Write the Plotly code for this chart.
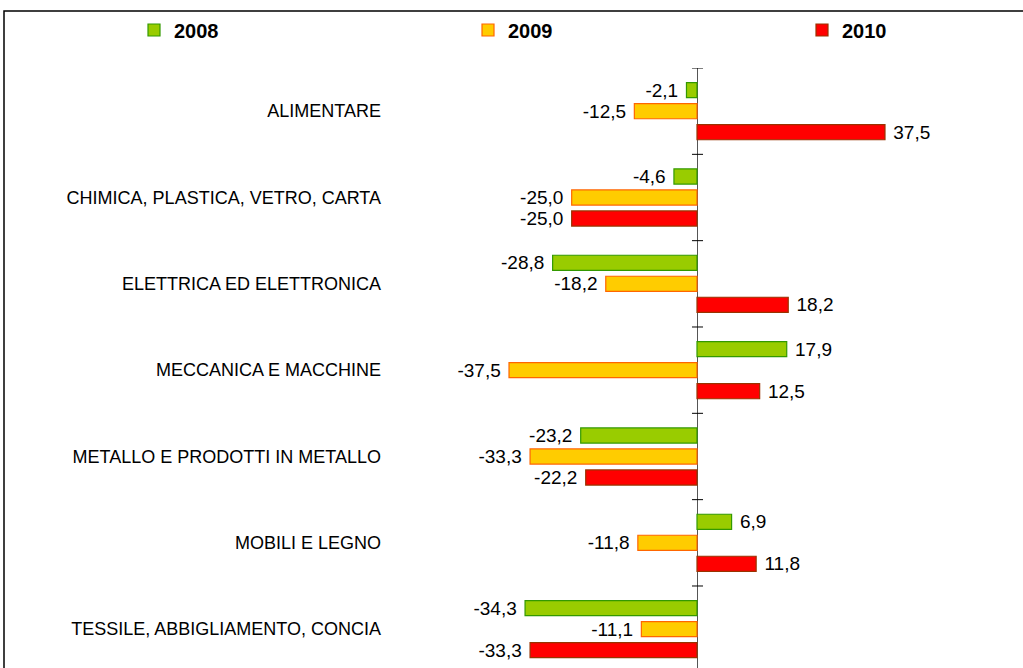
import plotly.graph_objects as go

categories = ["ALIMENTARE", "CHIMICA, PLASTICA, VETRO, CARTA", "ELETTRICA ED ELETTRONICA",
              "MECCANICA E MACCHINE", "METALLO E PRODOTTI IN METALLO", "MOBILI E LEGNO",
              "TESSILE, ABBIGLIAMENTO, CONCIA"]
v2008 = [-2.1, -4.6, -28.8, 17.9, -23.2, 6.9, -34.3]
v2009 = [-12.5, -25.0, -18.2, -37.5, -33.3, -11.8, -11.1]
v2010 = [37.5, -25.0, 18.2, 12.5, -22.2, 11.8, -33.3]

series = [
    ("2008", v2008, "#99CC00", "#339900", "legend"),
    ("2009", v2009, "#FFCC00", "#FF6600", "legend2"),
    ("2010", v2010, "#FF0000", "#993300", "legend3"),
]

W, H = 1023, 668
L, R, T, B = 388, 0, 68, 0
FONT = "Liberation Sans"
NB = "\u00a0"

fig = go.Figure()
for name, vals, fill, edge, lg in series:
    tmpl = [(NB + "%{x:.1f}") if v > 0 else ("%{x:.1f}" + NB) for v in vals]
    fig.add_trace(go.Bar(
        y=categories, x=vals, orientation="h", name="<b>%s</b>" % name,
        marker=dict(color=fill, line=dict(color=edge, width=1.2)),
        texttemplate=tmpl, textposition="outside", cliponaxis=False,
        constraintext="none", textfont=dict(family=FONT, size=19, color="black"),
        legend=lg,
    ))

pw = W - L - R
ph = H - T - B
shapes = []
# tick marks across the zero axis at category boundaries
for i in range(len(categories) + 1):
    shapes.append(dict(type="line", xref="x", yref="y", x0=-1.0, x1=1.2,
                       y0=i - 0.5, y1=i - 0.5, line=dict(color="black", width=1)))
# outer frame
shapes.append(dict(type="rect", xref="paper", yref="paper",
                   x0=(4 - L) / pw, x1=(W + 3 - L) / pw,
                   y0=-0.05, y1=(H - 11 - B) / ph,
                   line=dict(color="black", width=1.5), fillcolor="rgba(0,0,0,0)", layer="below"))

legend_common = dict(orientation="h", xref="container", yref="container",
                     yanchor="middle", xanchor="left", y=1 - 30 / H,
                     font=dict(family=FONT, size=20, color="black"),
                     bgcolor="rgba(0,0,0,0)", borderwidth=0)

fig.update_layout(
    width=W, height=H, autosize=False,
    margin=dict(l=L, r=R, t=T, b=B, pad=0, autoexpand=False),
    paper_bgcolor="white", plot_bgcolor="white",
    barmode="group", bargap=0.27, bargroupgap=0.28,
    separators=",.",
    font=dict(family=FONT, size=18, color="black"),
    xaxis=dict(range=[(L - 697) / 5.013, (W - R - 697) / 5.013], showgrid=False,
               showticklabels=False, ticks="", zeroline=True, zerolinecolor="#555555",
               zerolinewidth=1, showline=False, fixedrange=True),
    yaxis=dict(range=[6.45, -0.5], showgrid=False, ticks="", showline=False,
               tickfont=dict(family=FONT, size=18, color="black"), ticklabelstandoff=6),
    shapes=shapes,
    legend=dict(legend_common, x=134 / W),
    legend2=dict(legend_common, x=468 / W),
    legend3=dict(legend_common, x=802 / W),
    showlegend=True,
)

fig.write_html("out.html", config={"displayModeBar": False},
               post_script="document.body.style.margin='0';document.body.style.overflow='hidden';")
